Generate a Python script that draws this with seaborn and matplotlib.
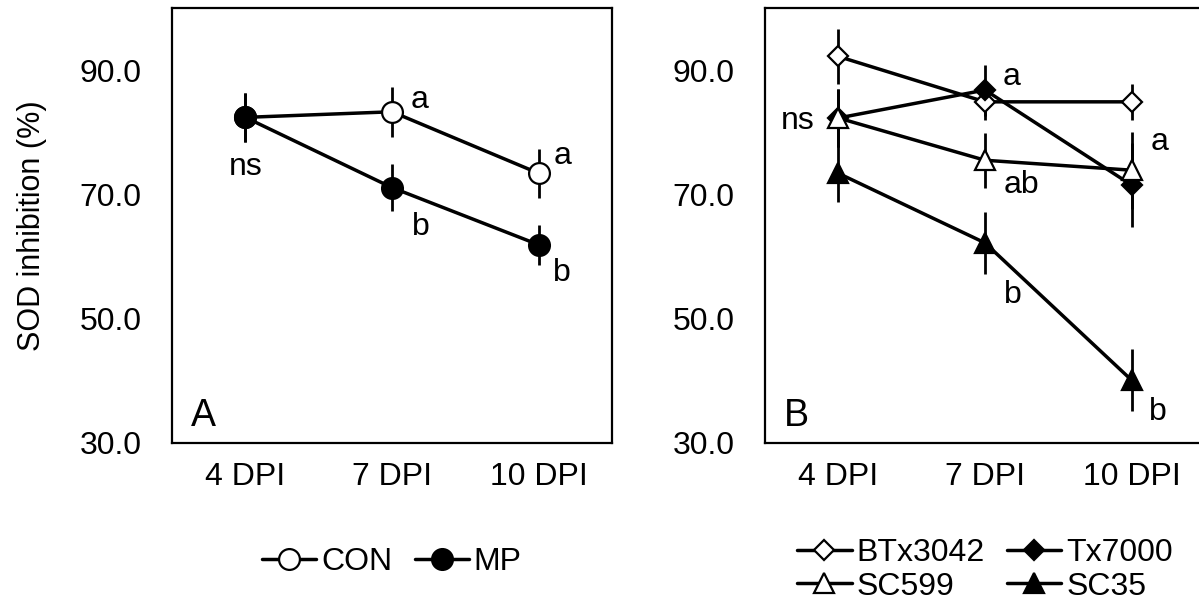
import matplotlib

matplotlib.use("Agg")

import matplotlib.pyplot as plt
import pandas as pd
import seaborn as sns

days = ["4 DPI", "7 DPI", "10 DPI"]
y_ticks = [30, 50, 70, 90]

# panel A
con_mean = [82.4, 83.3, 73.4]
con_err = [4.0, 4.0, 3.9]
mp_mean = [82.4, 71.1, 61.9]
mp_err = [4.0, 3.8, 3.2]

# panel B
btx_mean = [92.2, 84.9, 84.9]
btx_err = [4.4, 3.0, 2.9]
tx_mean = [82.3, 86.8, 71.5]
tx_err = [4.7, 4.1, 6.7]
sc599_mean = [82.3, 75.5, 73.9]
sc599_err = [4.7, 4.4, 6.2]
sc35_mean = [73.4, 62.2, 40.1]
sc35_err = [4.6, 5.0, 5.0]

# significance letters (x index, y value, text)
letters_a = [(0.0, 74.4, "ns"), (1.19, 85.2, "a"), (2.16, 76.2, "a"),
             (1.2, 64.8, "b"), (2.16, 57.4, "b")]
letters_b = [(-0.28, 81.8, "ns"), (1.18, 88.9, "a"), (1.25, 71.5, "ab"),
             (2.19, 78.4, "a"), (1.19, 53.8, "b"), (2.18, 35.0, "b")]

sns.set_theme(style="white")
plt.rcParams["font.family"] = ["Liberation Sans", "DejaVu Sans"]
plt.rcParams["text.color"] = "black"

FS = 23
W, H = 1199, 611
fig = plt.figure(figsize=(W / 100, H / 100), dpi=100)
ax_a = fig.add_axes([172 / W, (H - 443) / H, 440 / W, 435 / H])
ax_b = fig.add_axes([765 / W, (H - 443) / H, 440 / W, 435 / H])


def draw_series(ax, name, mean, err, marker, face, size):
    df = pd.DataFrame({"x": range(len(days)), "y": mean})
    ax.errorbar(df["x"], df["y"], yerr=err, fmt="none", ecolor="black",
                elinewidth=2.0, capsize=0, zorder=1.5)
    sns.lineplot(data=df, x="x", y="y", ax=ax, color="black", linewidth=2.5,
                 marker=marker, markersize=size, markerfacecolor=face,
                 markeredgecolor="black", markeredgewidth=1.6, label=name,
                 zorder=2)


draw_series(ax_a, "CON", con_mean, con_err, "o", "white", 15)
draw_series(ax_a, "MP", mp_mean, mp_err, "o", "black", 15)

draw_series(ax_b, "BTx3042", btx_mean, btx_err, "D", "white", 10.5)
draw_series(ax_b, "Tx7000", tx_mean, tx_err, "D", "black", 10.5)
draw_series(ax_b, "SC599", sc599_mean, sc599_err, "^", "white", 15)
draw_series(ax_b, "SC35", sc35_mean, sc35_err, "^", "black", 15)

for ax, panel, letters in [(ax_a, "A", letters_a), (ax_b, "B", letters_b)]:
    ax.set_xlim(-0.5, 2.5)
    ax.set_ylim(30, 100)
    ax.set_xticks(range(len(days)))
    ax.set_xticklabels(days)
    ax.set_yticks(y_ticks)
    ax.set_yticklabels([f"{v:.1f}" for v in y_ticks])
    ax.set_xlabel("")
    ax.set_ylabel("")
    ax.tick_params(axis="both", length=0, labelsize=FS, colors="black")
    ax.tick_params(axis="x", pad=14)
    ax.tick_params(axis="y", pad=22)
    for sp in ax.spines.values():
        sp.set_color("black")
        sp.set_linewidth(1.6)
    ax.text(0.044, 0.04, panel, transform=ax.transAxes, fontsize=27,
            ha="left", va="baseline", color="black")
    for x, y, t in letters:
        ax.text(x, y, t, fontsize=FS, ha="center", va="center", color="black")

ax_a.set_ylabel("SOD inhibition (%)", fontsize=22, color="black", va="center")
ax_a.yaxis.set_label_coords(-0.318, 0.5)

leg_kw = dict(frameon=False, fontsize=FS, handlelength=1.7, handletextpad=0.15,
              columnspacing=0.7, labelspacing=0.1, loc="center",
              labelcolor="black")
ax_a.legend(ncol=2, bbox_to_anchor=(0.5, -0.274), **leg_kw)

# legend fills column by column, so reorder to get BTx3042/Tx7000 on row 1
handles, labels = ax_b.get_legend_handles_labels()
order = [0, 2, 1, 3]
ax_b.legend([handles[i] for i in order], [labels[i] for i in order],
            ncol=2, bbox_to_anchor=(0.5, -0.292), **leg_kw)

plt.savefig("out.png", dpi=100)
plt.close()
